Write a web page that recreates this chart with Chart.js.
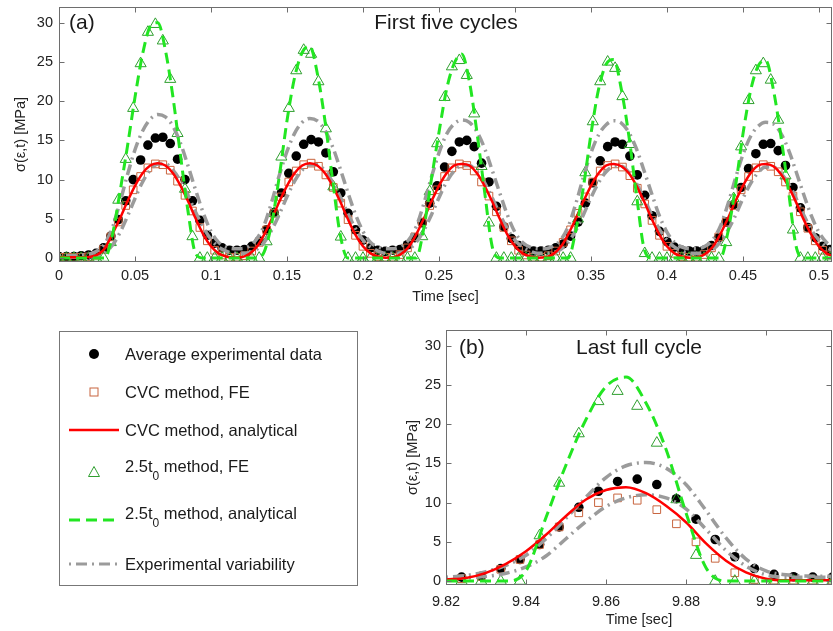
<!DOCTYPE html>
<html>
<head>
<meta charset="utf-8">
<script src="https://cdn.jsdelivr.net/npm/chart.js@4.4.1/dist/chart.umd.min.js"></script>
<style>
  html,body{margin:0;padding:0;background:#fff;}
  body{width:833px;height:631px;overflow:hidden;position:relative;font-family:"Liberation Sans",Arial,Helvetica,sans-serif;}
  #ca{position:absolute;left:0;top:0;}
  #cb{position:absolute;left:395px;top:320px;}
  #legend{position:absolute;left:59px;top:331px;width:297px;height:253px;border:1px solid #777;}
  .lt{position:absolute;left:125px;font-size:16.5px;line-height:18px;color:#1a1a1a;white-space:nowrap;}
  .lt .sb{position:relative;top:8px;font-size:12px;}
  #licons{position:absolute;left:0;top:0;}
</style>
</head>
<body>
<canvas id="ca" width="833" height="310"></canvas>
<canvas id="cb" width="438" height="311"></canvas>
<div id="legend"></div>
<svg id="licons" width="833" height="631">
  <circle cx="94" cy="354" r="5" fill="#000"/>
  <rect x="90" y="388" width="8" height="8" fill="none" stroke="#c8653f" stroke-width="1"/>
  <line x1="69" y1="430" x2="119" y2="430" stroke="#ff0000" stroke-width="2.5"/>
  <polygon points="94,466.5 88.5,476.5 99.5,476.5" fill="none" stroke="#2f9f2f" stroke-width="1"/>
  <line x1="69" y1="520" x2="119" y2="520" stroke="#22e622" stroke-width="3" stroke-dasharray="11 6"/>
  <line x1="69" y1="564" x2="119" y2="564" stroke="#9b9b9b" stroke-width="3" stroke-dasharray="2 5 11 5"/>
</svg>
<div class="lt" style="top:345px">Average experimental data</div>
<div class="lt" style="top:383px">CVC method, FE</div>
<div class="lt" style="top:421px">CVC method, analytical</div>
<div class="lt" style="top:457px">2.5t<span class="sb">0</span> method, FE</div>
<div class="lt" style="top:504px">2.5t<span class="sb">0</span> method, analytical</div>
<div class="lt" style="top:555px">Experimental variability</div>

<script>
// ---------------- Panel (a): first five cycles ----------------
// sample times of the discrete (FE / experimental) points [s]
const timeA = [0,0.0049,0.0098,0.0146,0.0195,0.0244,0.0293,0.0341,0.0390,0.0439,
  0.0488,0.0537,0.0585,0.0634,0.0683,0.0732,0.0780,0.0829,0.0878,0.0927,
  0.0976,0.1024,0.1073,0.1122,0.1171,0.1220,0.1268,0.1317,0.1366,0.1415,
  0.1463,0.1512,0.1561,0.1610,0.1659,0.1707,0.1756,0.1805,0.1854,0.1902,
  0.1951,0.2000,0.2049,0.2098,0.2146,0.2195,0.2244,0.2293,0.2341,0.2390,
  0.2439,0.2488,0.2537,0.2585,0.2634,0.2683,0.2732,0.2780,0.2829,0.2878,
  0.2927,0.2976,0.3024,0.3073,0.3122,0.3171,0.3220,0.3268,0.3317,0.3366,
  0.3415,0.3463,0.3512,0.3561,0.3610,0.3659,0.3707,0.3756,0.3805,0.3854,
  0.3902,0.3951,0.4000,0.4049,0.4098,0.4146,0.4195,0.4244,0.4293,0.4341,
  0.4390,0.4439,0.4488,0.4537,0.4585,0.4634,0.4683,0.4732,0.4780,0.4829,
  0.4878,0.4927,0.4976,0.5024,0.5073];
const avgExpA = [0.2,0.2,0.2,0.3,0.4,0.6,1.3,2.8,4.9,7.3,
  10.0,12.5,14.4,15.3,15.4,14.6,12.6,10.0,7.3,4.8,
  2.9,1.9,1.3,1.0,1.0,1.1,1.5,2.2,3.6,5.8,
  8.3,10.8,13.0,14.5,15.1,14.8,13.4,11.0,8.3,5.7,
  3.6,2.3,1.3,1.0,0.85,1.0,1.1,1.7,2.6,4.5,
  7.0,9.2,11.6,13.6,14.8,15.0,14.2,12.1,9.7,6.6,
  4.0,2.5,1.6,1.1,0.9,0.9,1.0,1.3,1.8,2.8,
  4.6,7.0,9.6,12.4,14.2,14.8,14.5,13.0,10.6,8.0,
  5.4,3.4,2.1,1.4,1.0,0.9,0.9,1.0,1.6,2.6,
  4.6,6.8,9.0,11.4,13.3,14.5,14.6,13.7,11.8,9.0,
  6.4,3.9,2.6,1.5,1.1];
const cvcFeA = [0.1,0.1,0.1,0.1,0.15,0.35,1.1,2.7,4.6,6.7,
  8.7,10.4,11.5,12.0,11.9,11.2,9.8,8.0,6.0,3.9,
  2.2,1.0,0.4,0.1,0.1,0.3,0.9,2.0,3.6,5.7,
  7.8,9.7,11.1,11.9,12.1,11.7,10.6,9.0,7.0,4.9,
  2.9,1.5,0.6,0.2,0.1,0.1,0.45,1.3,2.7,4.6,
  6.7,8.7,10.4,11.5,12.0,11.8,11.1,9.7,7.9,5.9,
  3.9,2.2,1.0,0.4,0.1,0.1,0.3,0.9,2.0,3.6,
  5.7,7.8,9.7,11.1,11.8,12.0,11.6,10.5,8.9,6.9,
  4.8,2.9,1.5,0.6,0.2,0.1,0.1,0.45,1.3,2.7,
  4.6,6.7,8.7,10.4,11.5,11.9,11.7,11.0,9.7,7.9,
  5.9,3.8,2.2,1.0,0.4];
const t0FeA = [0,0,0,0,0,0,0,2.0,7.4,12.6,
  19.1,24.8,28.8,29.8,27.7,22.8,15.9,8.8,2.75,0,
  0,0,0,0,0,0,0,0,2.1,5.7,
  12.9,19.1,23.9,26.5,26.0,22.5,16.5,9.1,2.7,0,
  0,0,0,0,0,0,0,0,0,2.75,
  8.5,14.6,20.5,24.4,25.2,23.3,18.4,11.7,4.5,0,
  0,0,0,0,0,0,0,0,0,0,
  5.0,10.9,17.4,22.5,25.0,24.2,20.6,14.5,7.2,0.6,
  0,0,0,0,0,0,0,0,0,0,
  2.0,7.6,14.2,20.1,23.9,24.8,22.7,17.6,10.5,3.6,
  0,0,0,0,0];
// times of the analytical / envelope curves [s]
const curveTimeA = [0,0.005,0.01,0.015,0.02,0.025,0.03,0.035,0.04,0.045,0.05,0.055,0.06,0.065,0.07,0.075,0.08,0.085,0.09,0.095,
  0.1,0.105,0.11,0.115,0.12,0.125,0.13,0.135,0.14,0.145,0.15,0.155,0.16,0.165,0.17,0.175,0.18,0.185,0.19,0.195,
  0.2,0.205,0.21,0.215,0.22,0.225,0.23,0.235,0.24,0.245,0.25,0.255,0.26,0.265,0.27,0.275,0.28,0.285,0.29,0.295,
  0.3,0.305,0.31,0.315,0.32,0.325,0.33,0.335,0.34,0.345,0.35,0.355,0.36,0.365,0.37,0.375,0.38,0.385,0.39,0.395,
  0.4,0.405,0.41,0.415,0.42,0.425,0.43,0.435,0.44,0.445,0.45,0.455,0.46,0.465,0.47,0.475,0.48,0.485,0.49,0.495,
  0.5,0.505,0.51];
const cvcAnA = [0.1,0.1,0.1,0.1,0.15,0.4,1.2,3.0,5.0,7.2,9.2,10.8,11.8,12.1,11.8,10.8,9.2,7.2,5.0,3.0,
  1.5,0.6,0.2,0.05,0.1,0.5,1.4,3.0,5.0,7.2,9.2,10.8,11.8,12.1,11.8,10.8,9.2,7.2,5.0,3.0,
  1.5,0.6,0.2,0.05,0.1,0.5,1.4,3.0,5.0,7.2,9.2,10.8,11.8,12.0,11.8,10.8,9.2,7.2,5.0,3.0,
  1.5,0.6,0.2,0.05,0.1,0.5,1.4,3.0,5.0,7.2,9.2,10.8,11.8,12.0,11.7,10.8,9.2,7.2,5.0,3.0,
  1.5,0.6,0.2,0.05,0.1,0.5,1.4,3.0,5.0,7.2,9.2,10.8,11.8,12.0,11.7,10.7,9.1,7.1,4.9,3.0,
  1.5,0.6,0.2];
const t0AnA = [0,0,0,0,0,0,0,2.8,8.3,14.2,20.5,26.0,29.5,30.0,26.5,20.5,13.0,5.8,0.5,0,
  0,0,0,0,0,0,0,0.8,4.5,10.5,17.5,23.0,26.2,27.0,23.5,17.5,10.0,3.0,0,0,
  0,0,0,0,0,0,0,0,3.8,10.0,16.0,21.5,24.8,26.0,22.5,16.0,8.5,1.5,0,0,
  0,0,0,0,0,0,0,0,3.5,9.0,15.8,21.5,24.7,25.3,21.5,15.5,8.0,1.2,0,0,
  0,0,0,0,0,0,0,0,3.2,9.0,15.8,21.3,24.5,25.2,21.5,15.5,8.5,1.5,0,0,
  0,0,0];
const expHighA = [0.3,0.3,0.3,0.4,0.5,0.9,1.8,3.8,7.0,10.6,13.8,16.2,17.7,18.3,18.0,16.8,14.6,11.7,8.6,5.7,
  3.4,2.0,1.4,1.2,1.2,1.5,2.4,4.2,7.2,10.6,13.6,15.9,17.3,17.8,17.5,16.3,14.2,11.4,8.4,5.6,
  3.4,2.0,1.4,1.2,1.2,1.5,2.3,4.0,6.9,10.3,13.4,15.8,17.1,17.6,17.3,16.1,14.0,11.2,8.3,5.5,
  3.3,2.0,1.4,1.2,1.2,1.5,2.3,4.0,6.9,10.3,13.4,15.7,17.0,17.5,17.2,16.0,13.9,11.1,8.2,5.4,
  3.3,2.0,1.4,1.2,1.2,1.5,2.3,4.0,6.8,10.1,13.2,15.5,16.8,17.3,17.1,15.9,13.8,11.0,8.1,5.4,
  3.3,2.0,1.4];
const expLowA = [0.1,0.1,0.1,0.1,0.15,0.3,0.7,1.6,3.2,5.3,7.6,9.7,11.2,12.0,12.0,11.2,9.8,7.9,5.8,3.9,
  2.4,1.4,0.9,0.6,0.6,0.7,1.1,2.0,3.6,5.6,7.8,9.8,11.2,11.9,11.9,11.1,9.7,7.8,5.7,3.8,
  2.3,1.4,0.9,0.6,0.6,0.7,1.1,2.0,3.5,5.5,7.7,9.7,11.1,11.8,11.8,11.0,9.6,7.7,5.6,3.7,
  2.3,1.4,0.9,0.6,0.6,0.7,1.1,2.0,3.5,5.5,7.7,9.6,11.0,11.7,11.7,10.9,9.5,7.6,5.5,3.7,
  2.3,1.4,0.9,0.6,0.6,0.7,1.1,2.0,3.5,5.4,7.6,9.5,10.9,11.6,11.6,10.8,9.5,7.6,5.5,3.6,
  2.3,1.4,0.9];
const xTicksA = [0,0.05,0.1,0.15,0.2,0.25,0.3,0.35,0.4,0.45,0.5];
const xLabelsA = ['0','0.05','0.1','0.15','0.2','0.25','0.3','0.35','0.4','0.45','0.5'];

// ---------------- Panel (b): last full cycle ----------------
const timeB = [9.8239,9.8288,9.8337,9.8385,9.8434,9.8483,9.8532,9.8581,9.8629,9.8678,
  9.8727,9.8776,9.8825,9.8873,9.8922,9.8971,9.9020,9.9069,9.9117,9.9166];
const avgExpB = [0.5,0.6,1.6,2.75,4.66,6.9,9.4,11.45,12.7,13.0,12.3,10.5,7.9,5.3,3.1,1.6,0.85,0.55,0.5,0.5];
const cvcFeB  = [0.3,0.6,1.5,2.75,4.66,6.9,8.7,10.0,10.6,10.3,9.1,7.3,5.0,2.9,1.06,0.2,0.1,0.1,0.1,0.1];
const t0FeB   = [0,0,0,0,5.8,12.5,18.8,22.9,24.2,22.3,17.6,10.4,3.3,0,0,0,0,0,0,0];
const curveTimeB = [9.82,9.825,9.83,9.835,9.84,9.845,9.85,9.855,9.86,9.865,9.87,9.875,9.88,9.885,9.89,9.895,9.9,9.905,9.91,9.915,9.92];
const cvcAnB   = [0.2,0.4,1.05,2.2,3.8,5.9,8.3,10.4,11.6,11.95,11.2,9.6,7.5,4.8,2.6,1.1,0.3,0.1,0.1,0.1,0.1];
const t0AnB    = [0,0,0,0,1.3,8.1,14.8,20.6,24.8,26.0,22.7,16.8,8.7,1.7,0,0,0,0,0,0,0];
const expHighB = [0.5,0.7,1.2,2.0,3.3,5.4,8.0,10.7,13.2,14.7,15.1,14.4,12.3,9.0,5.5,2.8,1.3,0.8,0.65,0.6,0.6];
const expLowB  = [0.3,0.4,0.6,1.0,1.8,3.2,5.4,7.6,9.5,10.6,11.0,10.6,9.2,6.6,3.9,1.9,0.8,0.5,0.5,0.5,0.5];
const xTicksB = [9.82,9.84,9.86,9.88,9.9];
const xLabelsB = ['9.82','9.84','9.86','9.88','9.9'];

const yTicks = [0,5,10,15,20,25,30];
const yLabels = ['0','5','10','15','20','25','30'];

// ---------------- drawing ----------------
const FONT = '"Liberation Sans", Arial, Helvetica, sans-serif';
const pts = (xs, ys) => xs.map((x, i) => ({x: x, y: ys[i]}));

const framePlugin = {
  id: 'frame',
  afterDraw(chart, args, o) {
    const ctx = chart.ctx, a = chart.chartArea, xs = chart.scales.x, ys = chart.scales.y;
    ctx.save();
    const L = Math.round(a.left) + 0.5, R = Math.round(a.right) - 0.5;
    const T = Math.round(a.top) + 0.5, B = Math.round(a.bottom) - 0.5;
    ctx.strokeStyle = '#6e6e6e';
    ctx.lineWidth = 1;
    ctx.strokeRect(L, T, R - L, B - T);
    ctx.beginPath();
    xs.ticks.forEach(t => {
      const p = Math.round(xs.getPixelForValue(t.value)) + 0.5;
      ctx.moveTo(p, B); ctx.lineTo(p, B - 5);
      ctx.moveTo(p, T); ctx.lineTo(p, T + 5);
    });
    ys.ticks.forEach(t => {
      const p = Math.round(ys.getPixelForValue(t.value)) + 0.5;
      ctx.moveTo(L, p); ctx.lineTo(L + 5, p);
      ctx.moveTo(R, p); ctx.lineTo(R - 5, p);
    });
    ctx.stroke();
    ctx.fillStyle = '#1a1a1a';
    ctx.font = '21px ' + FONT;
    ctx.textBaseline = 'middle';
    ctx.textAlign = 'left';
    ctx.fillText(o.tag, a.left + o.tagDx, a.top + o.dy);
    ctx.textAlign = 'center';
    ctx.fillText(o.title, o.titleX, a.top + o.dy);
    ctx.restore();
  }
};

function makeChart(id, d) {
  const markerDs = [
    {label: 'Average experimental data', data: pts(d.t, d.exp), showLine: false,
     pointStyle: 'circle', pointRadius: 4.8, pointBackgroundColor: '#000', pointBorderColor: '#000', pointBorderWidth: 0, order: 7},
    {label: 'CVC method, FE', data: pts(d.t, d.cvcFe), showLine: false,
     pointStyle: 'rect', pointRadius: 5.4, pointBackgroundColor: 'rgba(0,0,0,0)', pointBorderColor: '#c8653f', pointBorderWidth: 1, order: 6},
    {label: '2.5t0 method, FE', data: pts(d.t, d.t0Fe), showLine: false,
     pointStyle: 'triangle', pointRadius: 6.4, pointBackgroundColor: 'rgba(0,0,0,0)', pointBorderColor: '#2f9f2f', pointBorderWidth: 1, order: 5}
  ];
  const lineBase = {pointRadius: 0, fill: false, tension: 0.4, cubicInterpolationMode: 'monotone'};
  const lineDs = [
    Object.assign({label: 'Experimental variability', data: pts(d.tl, d.hi), borderColor: '#9b9b9b', borderWidth: 3.5, borderDash: [2, 5, 11, 5], order: 4}, lineBase),
    Object.assign({label: 'Experimental variability (lower)', data: pts(d.tl, d.lo), borderColor: '#9b9b9b', borderWidth: 3.5, borderDash: [2, 5, 11, 5], order: 3}, lineBase),
    Object.assign({label: 'CVC method, analytical', data: pts(d.tl, d.red), borderColor: '#ff0000', borderWidth: 2.5, order: 2}, lineBase),
    Object.assign({label: '2.5t0 method, analytical', data: pts(d.tl, d.t0An), borderColor: '#22e622', borderWidth: 3, borderDash: [11, 6], order: 1}, lineBase)
  ];
  return new Chart(document.getElementById(id), {
    type: 'line',
    data: {datasets: markerDs.concat(lineDs)},
    options: {
      responsive: false, animation: false, devicePixelRatio: 1, events: [],
      layout: {padding: d.pad, autoPadding: false},
      plugins: {legend: {display: false}, tooltip: {enabled: false}, frame: d.frame},
      scales: {
        x: {
          type: 'linear', position: 'bottom', min: d.xmin, max: d.xmax,
          grid: {display: false, drawTicks: false}, border: {display: false},
          afterBuildTicks: s => { s.ticks = d.xTicks.map(v => ({value: v})); },
          afterFit: s => { s.height = d.xH; s.paddingLeft = 0; s.paddingRight = 0; },
          ticks: {autoSkip: false, maxRotation: 0, padding: d.xTickPad, color: '#222',
                  font: {family: FONT, size: 14.5}, callback: (v, i) => d.xLabels[i]},
          title: {display: true, text: 'Time [sec]', color: '#222', font: {family: FONT, size: 14.5},
                  padding: {top: 0, bottom: d.xTitlePad}}
        },
        y: {
          type: 'linear', position: 'left', min: -0.5, max: 32,
          grid: {display: false, drawTicks: false}, border: {display: false},
          afterBuildTicks: s => { s.ticks = yTicks.map(v => ({value: v})); },
          afterFit: s => { s.width = d.yW; s.paddingTop = 0; s.paddingBottom = 0; },
          ticks: {autoSkip: false, padding: d.yTickPad, color: '#222',
                  font: {family: FONT, size: 14.5}, callback: (v, i) => yLabels[i]},
          title: {display: true, text: 'σ(ε,t) [MPa]', color: '#222', font: {family: FONT, size: 14.5},
                  padding: {top: d.yTitlePad, bottom: 0}}
        }
      }
    },
    plugins: [framePlugin]
  });
}

makeChart('ca', {
  t: timeA, exp: avgExpA, cvcFe: cvcFeA, t0Fe: t0FeA,
  tl: curveTimeA, red: cvcAnA, t0An: t0AnA, hi: expHighA, lo: expLowA,
  xmin: 0, xmax: 0.5086, xTicks: xTicksA, xLabels: xLabelsA,
  pad: {left: 0, top: 7, right: 1, bottom: 0}, yW: 59, xH: 48,
  xTickPad: 5, xTitlePad: 4, yTickPad: 6, yTitlePad: 12,
  frame: {tag: '(a)', title: 'First five cycles', tagDx: 10, titleX: 446, dy: 16}
});

makeChart('cb', {
  t: timeB, exp: avgExpB, cvcFe: cvcFeB, t0Fe: t0FeB,
  tl: curveTimeB, red: cvcAnB, t0An: t0AnB, hi: expHighB, lo: expLowB,
  xmin: 9.82, xmax: 9.9165, xTicks: xTicksB, xLabels: xLabelsB,
  pad: {left: 0, top: 10, right: 1, bottom: 0}, yW: 51, xH: 46,
  xTickPad: 8, xTitlePad: 2, yTickPad: 5, yTitlePad: 9,
  frame: {tag: '(b)', title: 'Last full cycle', tagDx: 13, titleX: 244, dy: 18}
});
</script>
</body>
</html>
